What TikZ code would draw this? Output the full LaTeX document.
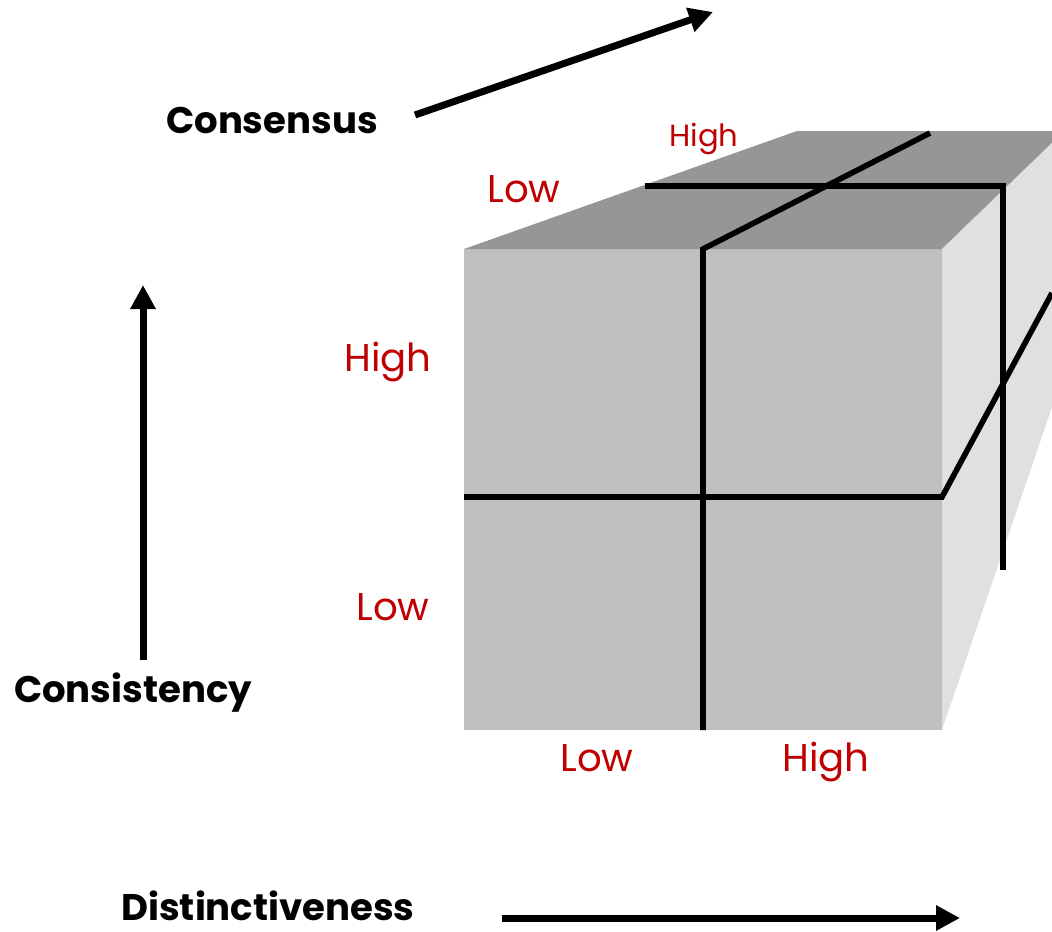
\documentclass[tikz,border=0pt]{standalone}
\usepackage{fontspec}
\setmainfont{Poppins}
\usetikzlibrary{arrows.meta}

\definecolor{frontgray}{RGB}{192,192,192}
\definecolor{topgray}{RGB}{150,150,150}
\definecolor{sidegray}{RGB}{224,224,224}
\definecolor{levelred}{RGB}{192,0,0}

\tikzset{every picture/.style={line width=0.75pt}}
\tikzset{
  axisarrow/.style={line width=5.25pt,-{Triangle[length=18pt,width=18pt]}},
  gridline/.style={line width=4.2pt,line join=miter},
  axislabel/.style={anchor=base,inner sep=0.75pt,font=\fontsize{27.8}{30}\selectfont\bfseries},
  levellabel/.style={anchor=base,inner sep=0.75pt,text=levelred,font=\fontsize{29}{32}\selectfont},
  smalllevel/.style={levellabel,font=\fontsize{23}{26}\selectfont}
}

\begin{document}
\begin{tikzpicture}[x=0.75pt,y=0.75pt,yscale=-1,xscale=1]
\path[use as bounding box] (0,0) rectangle (1052,931); %set diagram to 1052 x 931

%Shape: Front face
\fill[frontgray] (464,249) rectangle (942,730);
%Shape: Top face
\fill[topgray] (464,249) -- (797,131) -- (1052,131) -- (1052,143) -- (942,249) -- cycle;
%Shape: Side face
\fill[sidegray] (942,249) -- (1052,143) -- (1052,407) -- (942,730) -- cycle;

%Straight Lines: cell dividers
\draw[gridline] (464,497) -- (942,497) -- (1052,293);
\draw[gridline] (703,730) -- (703,249) -- (930,133);
\draw[gridline] (645,186) -- (1003,186) -- (1003,570);

%Axis arrows
\coordinate (consensus tail) at (415,115);
\coordinate (consensus head) at (713,12);
\coordinate (consistency tail) at (143,660);
\coordinate (consistency head) at (143,285);
\coordinate (distinct tail) at (502,918);
\coordinate (distinct head) at (960,918);
\draw[axisarrow] (consensus tail) -- (consensus head);
\draw[axisarrow] (consistency tail) -- (consistency head);
\draw[axisarrow] (distinct tail) -- (distinct head);

% Text Node
\node[axislabel] (consensus) at (272,133) {Consensus};
% Text Node
\node[axislabel] (consistency) at (133,702) {Consistency};
% Text Node
\node[axislabel] (distinct) at (268,920) {Distinctiveness};

% Text Node
\node[smalllevel] (consensus high) at (704,146) {High};
% Text Node
\node[levellabel] (consensus low) at (524,202) {Low};
% Text Node
\node[levellabel] (consistency high) at (388,371) {High};
% Text Node
\node[levellabel] (consistency low) at (393,620) {Low};
% Text Node
\node[levellabel] (distinct low) at (597,771) {Low};
% Text Node
\node[levellabel] (distinct high) at (826,771) {High};

\end{tikzpicture}
\end{document}
